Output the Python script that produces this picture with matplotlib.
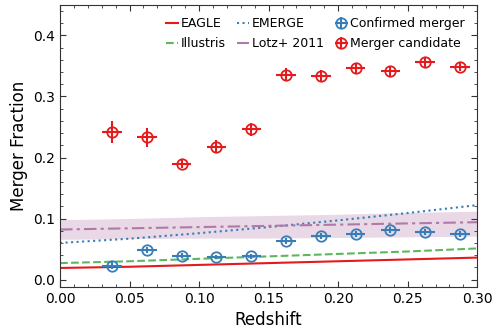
import numpy as np
import matplotlib
matplotlib.use('Agg')
import matplotlib.pyplot as plt
from matplotlib.ticker import AutoMinorLocator

# merger fractions per redshift bin
z_bins = [0.0375, 0.0625, 0.0875, 0.1125, 0.1375, 0.1625, 0.1875, 0.2125, 0.2375, 0.2625, 0.2875]
z_err = 0.007

cand = [0.241, 0.233, 0.190, 0.218, 0.246, 0.336, 0.334, 0.346, 0.341, 0.356, 0.349]
cand_err = [0.018, 0.015, 0.008, 0.011, 0.011, 0.011, 0.009, 0.009, 0.008, 0.008, 0.008]

conf = [0.023, 0.048, 0.039, 0.037, 0.038, 0.063, 0.072, 0.074, 0.081, 0.078, 0.074]
conf_err = [0.006, 0.005, 0.004, 0.004, 0.004, 0.005, 0.005, 0.005, 0.005, 0.005, 0.005]

# model curves
z_model = [0.0, 0.05, 0.10, 0.15, 0.20, 0.25, 0.30]
eagle = [0.019, 0.021, 0.024, 0.027, 0.030, 0.033, 0.036]
illustris = [0.027, 0.030, 0.034, 0.038, 0.042, 0.046, 0.051]
emerge = [0.060, 0.067, 0.076, 0.086, 0.097, 0.109, 0.122]
lotz = [0.082, 0.084, 0.086, 0.088, 0.090, 0.092, 0.094]
lotz_lo = [0.066, 0.067, 0.068, 0.068, 0.069, 0.070, 0.071]
lotz_hi = [0.098, 0.100, 0.103, 0.105, 0.107, 0.110, 0.112]

red = '#e41a1c'
blue = '#377eb8'
green = '#5cb85c'
purple = '#b07aa8'

fig, ax = plt.subplots(figsize=(4.92, 3.29), dpi=100)

ax.plot(z_model, eagle, '-', color=red, lw=1.5, label='EAGLE')
ax.plot(z_model, illustris, '--', color=green, lw=1.5, label='Illustris')
ax.plot(z_model, emerge, ':', color=blue, lw=1.5, label='EMERGE')
ax.plot(z_model, lotz, color=purple, lw=1.5, dashes=(6, 2, 1.5, 2), label='Lotz+ 2011')
ax.fill_between(z_model, lotz_lo, lotz_hi, color='#a8649e', alpha=0.25, lw=0)

ax.errorbar(z_bins, conf, xerr=z_err, yerr=conf_err, fmt='o', mfc='none',
            mec=blue, ecolor=blue, ms=7.5, mew=1.3, elinewidth=1.5, label='Confirmed merger')
ax.errorbar(z_bins, cand, xerr=z_err, yerr=cand_err, fmt='o', mfc='none',
            mec=red, ecolor=red, ms=7.5, mew=1.3, elinewidth=1.5, label='Merger candidate')

ax.set_xlim(0, 0.3)
ax.set_ylim(-0.012, 0.45)
ax.set_xlabel('Redshift', fontsize=12)
ax.set_ylabel('Merger Fraction', fontsize=12)
ax.xaxis.set_minor_locator(AutoMinorLocator(5))
ax.yaxis.set_minor_locator(AutoMinorLocator(5))
ax.tick_params(which='both', direction='in', top=True, right=True, labelsize=10, color='#333333')
ax.tick_params(which='major', length=4)
ax.tick_params(which='minor', length=2)
for s in ax.spines.values():
    s.set_color('#333333')

ax.legend(loc='upper right', ncol=3, frameon=False, fontsize=9,
          handlelength=1.0, handletextpad=0.2, columnspacing=0.9, labelspacing=0.55,
          borderaxespad=0.6)

fig.subplots_adjust(left=0.122, right=0.97, top=0.985, bottom=0.128)
fig.savefig('out.png', dpi=100)
